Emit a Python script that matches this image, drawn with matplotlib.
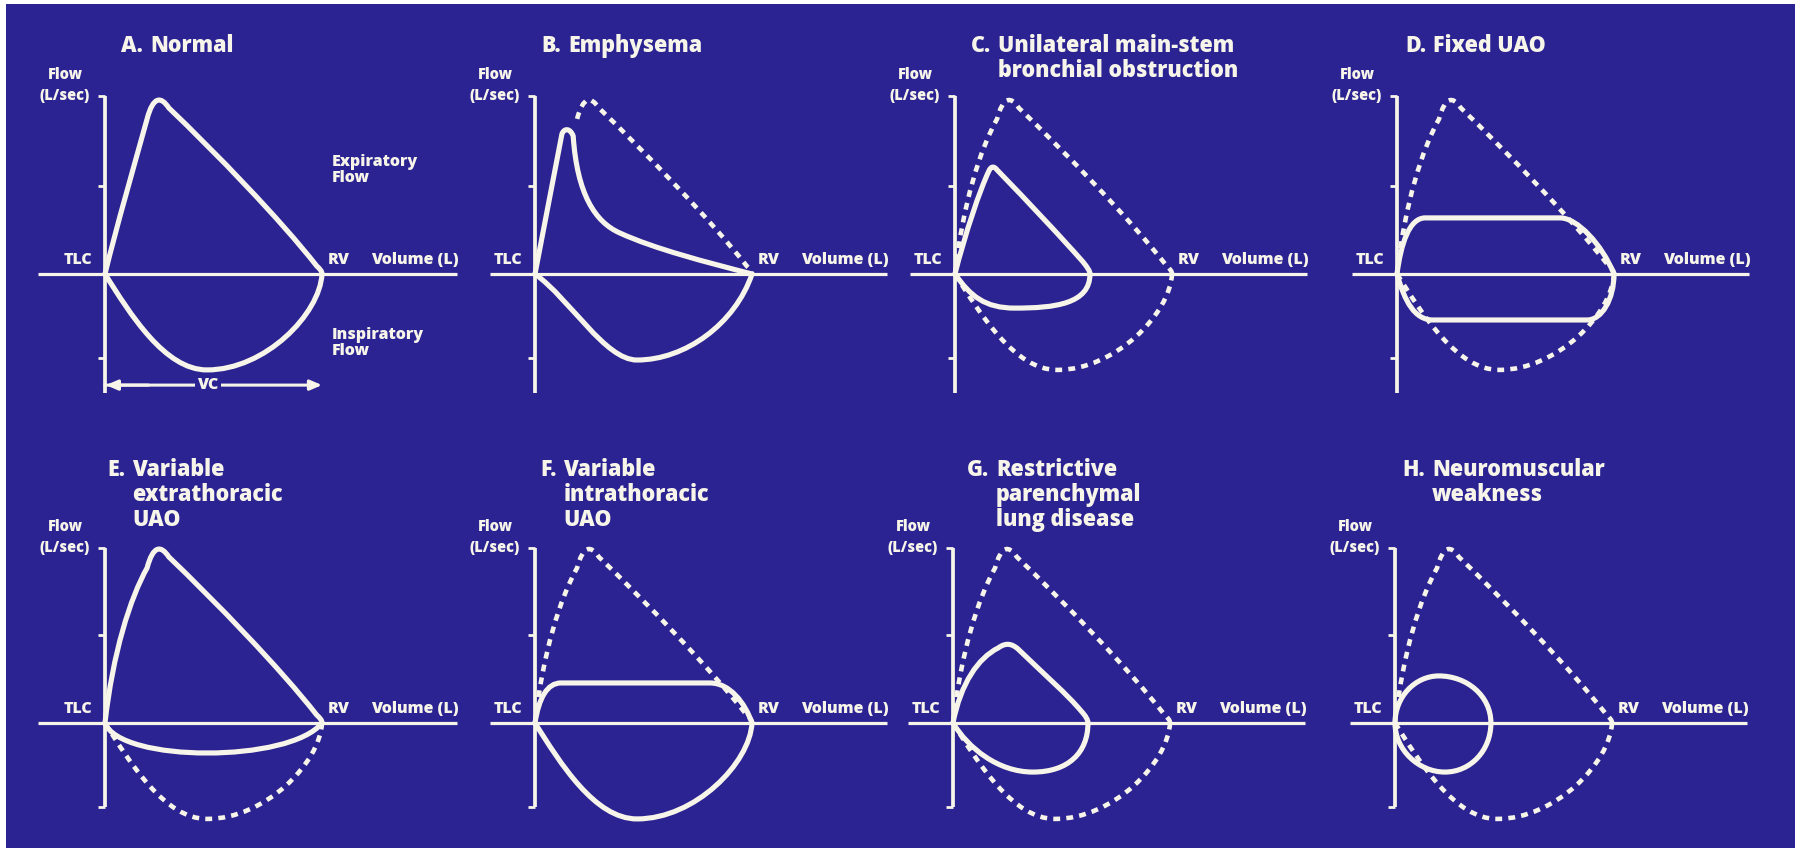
import matplotlib
matplotlib.use("Agg")
import matplotlib.pyplot as plt
from matplotlib.path import Path
from matplotlib.patches import PathPatch, Rectangle

W, H, DPI = 1797, 850, 100
BG = "#2b2391"
INK = "#f7f5ea"
FONT = ["Open Sans", "DejaVu Sans"]
WEIGHT = "heavy"

# drawing scale: pixels per litre (x) and per L/sec (y)
PX_PER_L = 43.4
PX_PER_LPS = 22.0

# ---- flow-volume loops, given as cubic Bezier vertices
#      (start point, then control, control, end for each segment)
# normal loop (reference outline in the other panels)
normal_exp_vol = [0.00, 0.18, 0.58, 0.97, 1.11, 1.29, 1.47, 2.53, 4.03, 4.88, 4.95, 5.00, 5.00]
normal_exp_flow = [0.00, 3.18, 5.68, 7.05, 8.09, 8.09, 7.55, 5.55, 2.50, 0.36, 0.23, 0.14, 0.00]
normal_insp_vol = [0.00, 0.58, 1.38, 2.35, 3.69, 4.95, 5.00]
normal_insp_flow = [0.00, -1.82, -4.36, -4.36, -4.36, -1.82, 0.00]

# A. normal expiratory limb (near-linear upstroke)
healthy_exp_vol = [0.00, 0.28, 0.65, 0.97, 1.11, 1.29, 1.47, 2.53, 4.03, 4.88, 4.95, 5.00, 5.00]
healthy_exp_flow = [0.00, 2.27, 4.77, 7.05, 8.09, 8.09, 7.55, 5.55, 2.50, 0.36, 0.23, 0.14, 0.00]

# B. emphysema
emph_exp_vol = [0.00, 0.21, 0.41, 0.62, 0.67, 0.81, 0.88, 0.97, 1.38, 1.96, 2.76, 3.92, 5.00]
emph_exp_flow = [0.00, 2.14, 4.23, 6.36, 6.64, 6.64, 6.27, 3.64, 2.36, 1.86, 1.14, 0.55, 0.00]
emph_insp_vol = [0.00, 0.81, 1.61, 2.35, 3.46, 4.61, 5.00]
emph_insp_flow = [0.00, -1.14, -3.91, -3.91, -3.91, -2.27, 0.00]

# C. unilateral main-stem bronchial obstruction
bronch_exp_vol = [0.00, 0.23, 0.58, 0.78, 0.83, 0.90, 0.97, 1.73, 2.42, 2.95, 3.06, 3.11, 3.11]
bronch_exp_flow = [0.00, 1.82, 3.86, 4.68, 4.91, 4.91, 4.73, 3.18, 1.73, 0.55, 0.27, 0.14, 0.00]
bronch_insp_vol = [0.00, 0.35, 0.69, 1.38, 2.30, 3.11, 3.11]
bronch_insp_flow = [0.00, -1.00, -1.55, -1.55, -1.55, -1.36, 0.00]

# D. fixed upper airway obstruction
fixed_exp_vol = [0.00, 0.09, 0.28, 0.65, 1.68, 2.72, 3.76, 4.15, 4.72, 5.00]
fixed_exp_flow = [0.00, 1.36, 2.55, 2.55, 2.55, 2.55, 2.55, 2.55, 1.36, 0.00]
fixed_insp_vol = [0.00, 0.18, 0.41, 0.83, 2.00, 3.20, 4.38, 4.72, 5.00, 5.00]
fixed_insp_flow = [0.00, -1.27, -2.09, -2.09, -2.09, -2.09, -2.09, -2.09, -1.14, 0.00]

# E. variable extrathoracic UAO (inspiratory limb)
extra_insp_vol = [0.00, 0.35, 4.26, 5.00]
extra_insp_flow = [0.00, -1.82, -1.82, 0.00]

# F. variable intrathoracic UAO (expiratory limb)
intra_exp_vol = [0.00, 0.09, 0.28, 0.60, 1.75, 2.90, 4.03, 4.49, 4.84, 5.00]
intra_exp_flow = [0.00, 1.14, 1.82, 1.82, 1.82, 1.82, 1.82, 1.82, 0.91, 0.00]

# G. restrictive parenchymal lung disease
restr_exp_vol = [0.00, 0.18, 0.58, 1.04, 1.20, 1.34, 1.50, 2.07, 2.65, 2.95, 3.06, 3.11, 3.11]
restr_exp_flow = [0.00, 1.82, 2.95, 3.41, 3.64, 3.64, 3.36, 2.27, 1.27, 0.55, 0.32, 0.14, 0.00]
restr_insp_vol = [0.00, 0.35, 1.04, 1.84, 2.65, 3.11, 3.11]
restr_insp_flow = [0.00, -1.14, -2.23, -2.23, -2.23, -1.36, 0.00]

# H. neuromuscular weakness
neuro_exp_vol = [0.00, 0.00, 0.46, 1.01, 1.66, 2.21, 2.21]
neuro_exp_flow = [0.00, 1.18, 2.14, 2.14, 2.14, 1.23, 0.00]
neuro_insp_vol = [0.00, 0.00, 0.55, 1.15, 1.75, 2.21, 2.21]
neuro_insp_flow = [0.00, -1.23, -2.23, -2.23, -2.23, -1.23, 0.00]

# ---- panel text
panel_letters = ["A.", "B.", "C.", "D.", "E.", "F.", "G.", "H."]
panel_titles = [
    ["Normal"],
    ["Emphysema"],
    ["Unilateral main-stem", "bronchial obstruction"],
    ["Fixed UAO"],
    ["Variable", "extrathoracic", "UAO"],
    ["Variable", "intrathoracic", "UAO"],
    ["Restrictive", "parenchymal", "lung disease"],
    ["Neuromuscular", "weakness"],
]
title_indent = [1.04, 0.76, 0.99, 0.83, 0.62, 0.65, 0.99, 0.85]   # litres from TLC

# ---- layout (pixel position of the TLC origin of each panel)
origin_x = [105, 535, 955, 1397, 105, 535, 953, 1395]
origin_y = [274, 274, 274, 274, 723, 723, 723, 723]
xaxis_left = [-1.54, -1.04, -1.04, -1.04, -1.54, -1.04, -1.04, -1.04]
XAXIS_RIGHT = 8.1
RV_VOLUME = 5.0
FLOW_TOP = [8.1, 8.1, 8.1, 8.1, 7.95, 7.95, 7.95, 7.95]
FLOW_BOTTOM = [-5.4, -5.4, -5.4, -5.4, -3.8, -3.8, -3.8, -3.8]
FLOW_TICKS = [4.0, -3.8]
TITLE_Y = [10.36] * 4 + [11.5] * 4
TITLE_STEP = 1.14

XLIM = (-2.2, 8.6)
YLIM = (-6.6, 12.6)

LW_SOLID = 3.7
LW_DOT = 3.3
LW_AXIS = 2.3
DOT_PATTERN = (0, (1.5, 1.35))


def bezier(vol, flow):
    verts = list(zip(vol, flow))
    codes = [Path.MOVETO] + [Path.CURVE4] * (len(verts) - 1)
    return Path(verts, codes)


def curve(ax, vol, flow, dotted=False):
    if dotted:
        p = PathPatch(bezier(vol, flow), fill=False, edgecolor=INK, lw=LW_DOT,
                      linestyle=DOT_PATTERN, capstyle="butt", zorder=3)
    else:
        p = PathPatch(bezier(vol, flow), fill=False, edgecolor=INK, lw=LW_SOLID,
                      capstyle="round", joinstyle="round", zorder=4)
    ax.add_patch(p)


def label(ax, x, y, s, size=11.5, **kw):
    ax.text(x, y, s, color=INK, fontsize=size, fontweight=WEIGHT, family=FONT,
            va="center", clip_on=False, **kw)


fig = plt.figure(figsize=(W / DPI, H / DPI), dpi=DPI, facecolor="white")
fig.patches.append(Rectangle((6 / W, 2 / H), (1795 - 6) / W, (846 - 2) / H,
                             transform=fig.transFigure, facecolor=BG,
                             edgecolor="none", zorder=-10))

axes = []
for i in range(8):
    left = (origin_x[i] + XLIM[0] * PX_PER_L) / W
    bottom = (H - origin_y[i] + YLIM[0] * PX_PER_LPS) / H
    width = (XLIM[1] - XLIM[0]) * PX_PER_L / W
    height = (YLIM[1] - YLIM[0]) * PX_PER_LPS / H
    ax = fig.add_axes([left, bottom, width, height])
    ax.set_zorder(1)
    ax.set_xlim(*XLIM)
    ax.set_ylim(*YLIM)
    ax.axis("off")
    ax.patch.set_alpha(0)
    axes.append(ax)

    # axes of the flow-volume plot
    tick = 7 / PX_PER_L
    ax.plot([xaxis_left[i], XAXIS_RIGHT], [0, 0], color=INK, lw=LW_AXIS,
            solid_capstyle="butt", zorder=2)
    ax.plot([0, 0], [FLOW_BOTTOM[i], FLOW_TOP[i]], color=INK, lw=LW_AXIS + 0.4,
            solid_capstyle="butt", zorder=2)
    ticks = [FLOW_TOP[i]] + FLOW_TICKS
    if i >= 4:
        ticks = [FLOW_TOP[i], FLOW_TICKS[0], FLOW_BOTTOM[i]]
    for t in ticks:
        ax.plot([-tick, 0], [t, t], color=INK, lw=LW_AXIS - 0.3,
                solid_capstyle="butt", zorder=2)

    # axis labels
    label(ax, -0.30, 0.64, "TLC", ha="right")
    label(ax, RV_VOLUME + 0.14, 0.64, "RV", ha="left")
    label(ax, 6.13, 0.64, "Volume (L)", ha="left")
    label(ax, -0.92, FLOW_TOP[i] + 0.95, "Flow", size=10.5, ha="center")
    label(ax, -0.92, FLOW_TOP[i], "(L/sec)", size=10.5, ha="center")

    # panel title: letter, then indented lines
    x_body = title_indent[i]
    label(ax, x_body - 0.16, TITLE_Y[i], panel_letters[i], size=15.5, ha="right")
    for k, line in enumerate(panel_titles[i]):
        label(ax, x_body, TITLE_Y[i] - k * TITLE_STEP, line, size=15.5, ha="left")

axA, axB, axC, axD, axE, axF, axG, axH = axes

# A. normal
curve(axA, healthy_exp_vol, healthy_exp_flow)
curve(axA, normal_insp_vol, normal_insp_flow)
label(axA, 5.23, 4.73, "Expiratory\nFlow", ha="left", linespacing=1.0)
label(axA, 5.23, -3.14, "Inspiratory\nFlow", ha="left", linespacing=1.0)
VC_FLOW = -5.05
axA.annotate("", xy=(RV_VOLUME, VC_FLOW), xytext=(0, VC_FLOW),
             arrowprops=dict(arrowstyle="-|>,head_length=0.7,head_width=0.3",
                             color=INK, lw=2.2, shrinkA=0, shrinkB=0), zorder=3)
axA.annotate("", xy=(0.02, VC_FLOW), xytext=(1.0, VC_FLOW),
             arrowprops=dict(arrowstyle="-|>,head_length=0.7,head_width=0.3",
                             color=INK, lw=2.2, shrinkA=0, shrinkB=0), zorder=3)
label(axA, 2.37, VC_FLOW, "VC", ha="center",
      bbox=dict(facecolor=BG, edgecolor="none", pad=1.5))

# B. emphysema
curve(axB, normal_exp_vol[3:], normal_exp_flow[3:], dotted=True)
curve(axB, emph_exp_vol, emph_exp_flow)
curve(axB, emph_insp_vol, emph_insp_flow)

# C. unilateral main-stem bronchial obstruction
curve(axC, normal_exp_vol, normal_exp_flow, dotted=True)
curve(axC, normal_insp_vol, normal_insp_flow, dotted=True)
curve(axC, bronch_exp_vol, bronch_exp_flow)
curve(axC, bronch_insp_vol, bronch_insp_flow)

# D. fixed UAO
curve(axD, normal_exp_vol, normal_exp_flow, dotted=True)
curve(axD, normal_insp_vol, normal_insp_flow, dotted=True)
curve(axD, fixed_exp_vol, fixed_exp_flow)
curve(axD, fixed_insp_vol, fixed_insp_flow)

# E. variable extrathoracic UAO
curve(axE, normal_insp_vol, normal_insp_flow, dotted=True)
curve(axE, normal_exp_vol, normal_exp_flow)
curve(axE, extra_insp_vol, extra_insp_flow)

# F. variable intrathoracic UAO
curve(axF, normal_exp_vol, normal_exp_flow, dotted=True)
curve(axF, intra_exp_vol, intra_exp_flow)
curve(axF, normal_insp_vol, normal_insp_flow)

# G. restrictive parenchymal lung disease
curve(axG, normal_exp_vol, normal_exp_flow, dotted=True)
curve(axG, normal_insp_vol, normal_insp_flow, dotted=True)
curve(axG, restr_exp_vol, restr_exp_flow)
curve(axG, restr_insp_vol, restr_insp_flow)

# H. neuromuscular weakness
curve(axH, normal_exp_vol, normal_exp_flow, dotted=True)
curve(axH, normal_insp_vol, normal_insp_flow, dotted=True)
curve(axH, neuro_exp_vol, neuro_exp_flow)
curve(axH, neuro_insp_vol, neuro_insp_flow)

fig.savefig("out.png", dpi=DPI, facecolor="white")
